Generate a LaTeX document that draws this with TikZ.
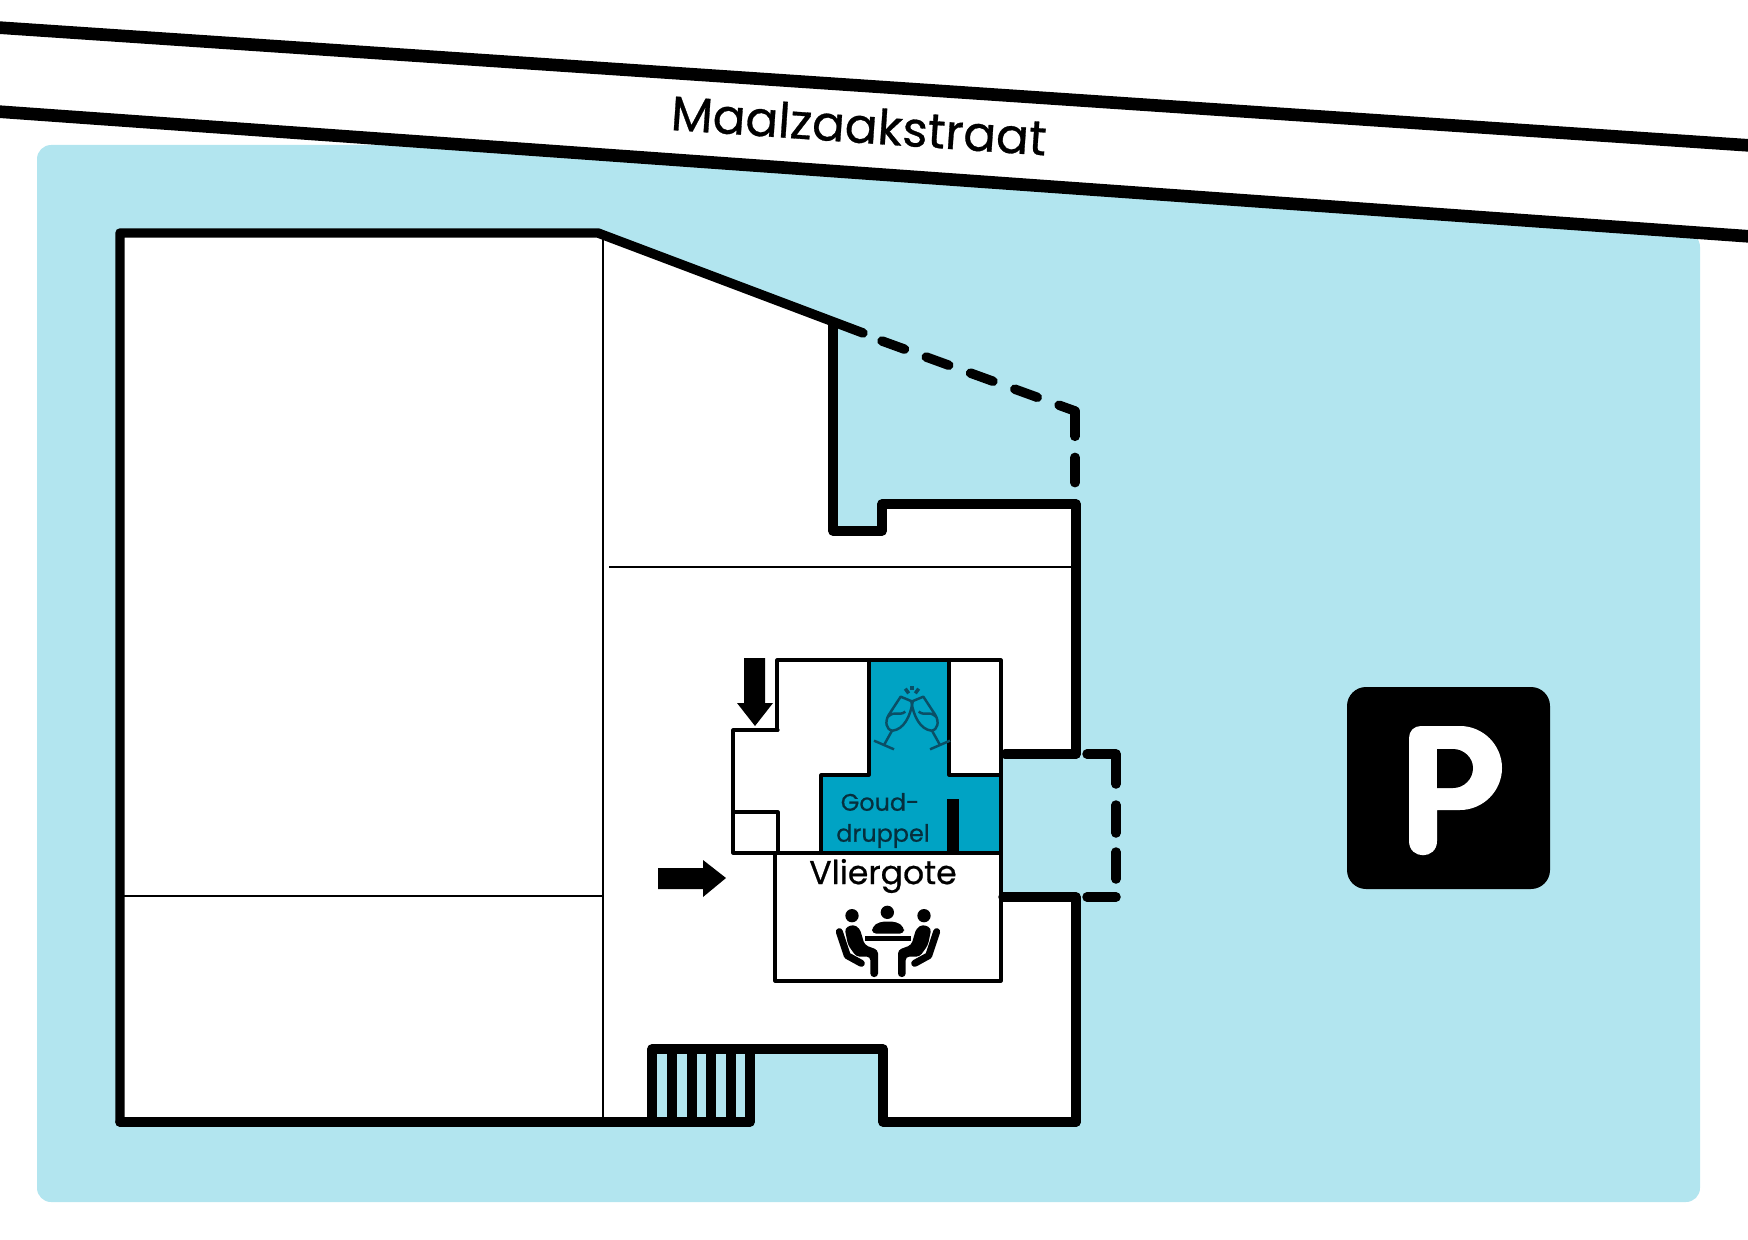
\documentclass[tikz,border=0pt]{standalone}
\usepackage{fontspec}
\setmainfont{Poppins}[FakeBold=0.6]
\usepackage{xcolor}
\definecolor{ground}{HTML}{B2E5EF}
\definecolor{zaal}{HTML}{00A3C4}
\definecolor{zaalink}{HTML}{0A4F66}
\tikzset{
  wall/.style={line width=13.5pt, line cap=round, line join=round},
  thinwall/.style={line width=4pt},
  roomwall/.style={line width=4.5pt, line cap=round, line join=round},
  road/.style={line width=18pt},
  label/.style={inner sep=0pt, text=black},
}
\begin{document}
\begin{tikzpicture}[x=0.05cm, y=-0.05cm]
  \useasboundingbox (0,0) rectangle (1748,1240);
  \clip (0,0) rectangle (1748,1240);

  % Draw the ground and the building
  \fill[ground, rounded corners=20pt] (37,145) -- (465,145) -- (1700,233) -- (1700,1202) -- (37,1202) -- cycle;
  \fill[white] (120,233) -- (598,233) -- (833,325) -- (833,531) -- (882,531) -- (882,504) -- (1076,504)
    -- (1076,754) -- (1001,754) -- (1001,897) -- (1076,897) -- (1076,1122) -- (883,1122) -- (883,1049)
    -- (652,1049) -- (652,1122) -- (120,1122) -- cycle;

  % Road and its name
  \draw[road] (-10,27) -- (1758,146);
  \draw[road] (-10,111) -- (1758,237);
  \node[label, rotate=-3.9, font=\fontsize{69}{69}\selectfont] (streetlabel) at (859,125) {Maalzaakstraat};

  % Thin inner walls
  \draw[thinwall] (603,233) -- (603,1122);
  \draw[thinwall] (609,567) -- (1072,567);
  \draw[thinwall] (120,896) -- (603,896);

  % Outer walls
  \draw[wall] (120,1122) -- (120,233) -- (598,233) -- (863,333);
  \draw[wall] (833,325) -- (833,531) -- (882,531) -- (882,504) -- (1076,504) -- (1076,754);
  \draw[wall] (1005,754) -- (1076,754);
  \draw[wall] (1003,897) -- (1076,897) -- (1076,1122);
  \draw[wall] (1076,1122) -- (883,1122) -- (883,1049) -- (652,1049) -- (652,1122) -- (750,1122) -- (750,1049);
  \draw[wall] (120,1122) -- (652,1122);
  % steps
  \foreach \xstep in {672,692,711,731}
    \draw[wall] (\xstep,1049) -- (\xstep,1122);

  % Dashed outline
  \draw[wall, dash pattern=on 34pt off 33pt] (882,341) -- (1075,411);
  \draw[wall, dash pattern=on 36pt off 30pt] (1075,411) -- (1075,504);
  \draw[wall] (1087,754) -- (1116,754) -- (1116,784);
  \foreach \ya/\yb in {805/833,852/879}
    \draw[wall] (1116,\ya) -- (1116,\yb);
  \draw[wall] (1116,897) -- (1087,897);

  % Gouddruppel room
  \fill[zaal] (869,660) -- (949,660) -- (949,775) -- (1000,775) -- (1000,853) -- (821,853) -- (821,775) -- (869,775) -- cycle;
  \fill[black] (947,799) rectangle (959,853);
  \draw[roomwall] (777,730) -- (777,660) -- (1001,660) -- (1001,981) -- (775,981) -- (775,853);
  \draw[roomwall] (778,730) -- (733,730) -- (733,853) -- (1001,853);
  \draw[roomwall] (733,812) -- (778,812) -- (778,853);
  \draw[roomwall] (869,660) -- (869,775) -- (821,775) -- (821,853);
  \draw[roomwall] (949,660) -- (949,775) -- (1000,775);
  \node[label, text=zaalink!60!black, font=\fontsize{34}{34}\selectfont] (goudlabel) at (880,802) {Goud-};
  \node[label, text=zaalink!60!black, font=\fontsize{34}{34}\selectfont] (druppellabel) at (883,836) {druppel};
  \node[label, font=\fontsize{47}{47}\selectfont] (vlierlabel) at (883,876) {Vliergote};

  % Entrance arrows
  \fill (744,658) -- (765,658) -- (765,703) -- (773,703) -- (755,726) -- (737,703) -- (744,703) -- cycle;
  \fill (658,868) -- (703,868) -- (703,860) -- (726,878) -- (703,897) -- (703,889) -- (658,889) -- cycle;

  % Glasses, one mirrored
  \foreach \m in {1,-1} {
    \begin{scope}[shift={(912,670)}, xscale=\m, scale=1/3, zaalink, line width=3.5pt, line join=round]
      \draw (-34,80) -- (2,95) .. controls (-5,140) and (-25,178) .. (-58,182) .. controls (-78,180) and (-82,155) .. (-70,135) -- cycle;
      \draw (-60,182) -- (-84,225);
      \draw (-114,212) -- (-54,238);
      \draw (-72,140) .. controls (-50,120) and (-40,140) .. (-20,125);
      \draw[line width=5pt] (-20,56) -- (-10,70);
    \end{scope}
  }
  \draw[zaalink, line width=5pt] (912,686) -- (912,690);

  % Meeting table
  \begin{scope}[shift={(888,895)}, scale=1/3]
    \fill (-2,52) circle (20);
    \fill[rounded corners=6pt] (-48,116) -- (-48,96) -- (-25,80) -- (25,80) -- (48,96) -- (48,116) -- cycle;
    \fill (-68,122) rectangle (68,138);
    \foreach \m in {1,-1} {
      \begin{scope}[xscale=\m]
        \fill (-108,62) circle (20);
        \fill[rounded corners=5pt] (-130,100) -- (-105,88) -- (-85,100) -- (-70,150) -- (-30,165) -- (-30,246) -- (-53,246) -- (-53,185) -- (-95,185) -- (-120,150) -- cycle;
        \draw[line width=10pt, line cap=round, line join=round] (-146,110) -- (-122,182) -- (-80,205);
      \end{scope}
    }
  \end{scope}

  % Parking sign
  \fill[black, rounded corners=27pt] (1347,687) rectangle (1550,889);
  \fill[white] (1409,841) -- (1409,738) .. controls (1409,731) and (1414,726) .. (1421,726) -- (1460,726)
    .. controls (1483,726) and (1502,745) .. (1502,768) .. controls (1502,791) and (1483,810) .. (1460,810)
    -- (1437,810) -- (1437,841) .. controls (1437,860) and (1409,860) .. (1409,841) -- cycle;
  \fill[black] (1437,749) -- (1453,749) .. controls (1464,749) and (1473,758) .. (1473,768)
    .. controls (1473,779) and (1464,788) .. (1453,788) -- (1437,788) -- cycle;
\end{tikzpicture}
\end{document}
